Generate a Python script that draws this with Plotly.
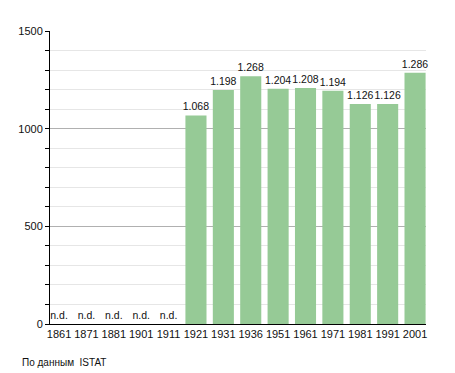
import plotly.graph_objects as go

years = ["1861", "1871", "1881", "1901", "1911", "1921", "1931", "1936",
         "1951", "1961", "1971", "1981", "1991", "2001"]
population = [None, None, None, None, None, 1068, 1198, 1268, 1204, 1208,
              1194, 1126, 1126, 1286]
y_ticks = [0, 500, 1000, 1500]
source_note = "По данным  ISTAT"

def fmt(v):
    if v is None:
        return "n.d."
    return f"{v:,}".replace(",", ".")

fig = go.Figure()
fig.add_trace(go.Bar(
    x=list(range(len(years))),
    y=[0 if v is None else v for v in population],
    text=[fmt(v) for v in population],
    textposition="outside",
    constraintext="none",
    textfont=dict(family="Liberation Sans, Arial, sans-serif", size=10.5, color="#111"),
    marker=dict(color="#96ca96", line=dict(width=0)),
    width=0.77,
    cliponaxis=False,
))

# page body has an 8px margin; margins compensate so the plot sits where the reference has it
fig.update_layout(
    width=455, height=373,
    margin=dict(l=42, r=37, t=23, b=57, autoexpand=False),
    paper_bgcolor="white", plot_bgcolor="white",
    showlegend=False,
    font=dict(family="Liberation Sans, Arial, sans-serif", size=11, color="#111"),
    xaxis=dict(
        tickmode="array", tickvals=list(range(len(years))), ticktext=years,
        range=[-0.33, 13.4], showgrid=False, showline=True, linecolor="black",
        linewidth=1, ticks="", ticklen=0, zeroline=False, automargin=False,
        tickfont=dict(size=11),
    ),
    yaxis=dict(
        range=[0, 1500], tickvals=y_ticks, showline=True, linecolor="black",
        linewidth=1, ticks="outside", ticklen=4, tickcolor="black",
        gridcolor="#b0b0b0", gridwidth=1, zeroline=False, automargin=False,
        minor=dict(dtick=100, showgrid=True, gridcolor="#e6e6e6",
                   ticks="outside", ticklen=4, tickcolor="black"),
        tickfont=dict(size=11), ticksuffix="   ",
    ),
    annotations=[dict(
        text=source_note, x=(20 - 50) / 376, y=(324 - 362) / 293,
        xref="paper", yref="paper",
        showarrow=False, font=dict(size=10, color="#111"),
        xanchor="left", yanchor="middle",
    )],
)

fig.write_html("out.html")
